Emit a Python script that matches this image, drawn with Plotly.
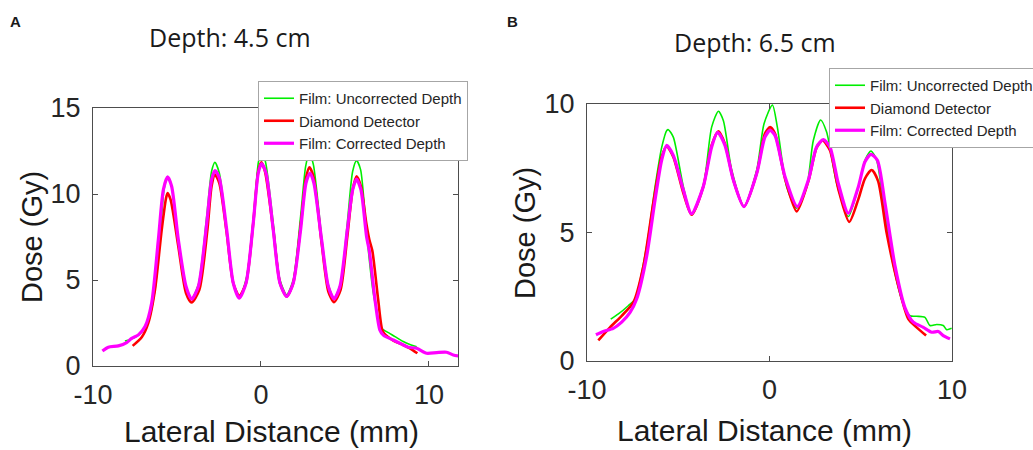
import plotly.graph_objects as go

# ---- panel A: depth 4.5 cm ----
a_unc_x = [-8.1, -7.6, -7.2, -6.71, -6.31, -6.01, -5.77, -5.56, -5.32, -4.92, -4.46, -4.13, -3.73, -3.23, -2.94,
           -2.74, -2.48, -2.04, -1.65, -1.29, -0.85, -0.42, -0.16, 0.02, 0.26, 0.73, 1.13, 1.53, 1.92, 2.36,
           2.66, 2.88, 3.12, 3.61, 4.01, 4.35, 4.74, 5.14, 5.46, 5.69, 5.93, 6.29, 6.69, 7.18, 7.48, 7.98,
           8.47, 8.9, 9.27]
a_unc_y = [1.45, 1.62, 1.86, 2.58, 4.43, 7.34, 10.25, 10.99, 10.45, 7.34, 4.62, 3.94, 4.72, 8.7, 11.32,
           11.84, 11.22, 7.92, 4.82, 3.94, 5.2, 8.89, 11.81, 12.45, 11.9, 8.31, 5.01, 4.14, 5.01, 8.7,
           11.61, 12.39, 11.71, 7.53, 4.72, 3.94, 4.82, 8.31, 11.32, 11.94, 11.42, 7.73, 4.23, 2.19, 2.0, 1.71,
           1.42, 1.24, 1.12]

a_dia_x = [-7.64, -7.1, -6.71, -6.31, -5.91, -5.65, -5.56, -5.38, -4.92, -4.46, -4.13, -3.67, -3.19, -2.94,
           -2.74, -2.48, -2.04, -1.65, -1.29, -0.89, -0.46, -0.16, 0.02, 0.24, 0.73, 1.13, 1.53, 1.92, 2.36,
           2.68, 2.88, 3.12, 3.61, 4.01, 4.35, 4.74, 5.14, 5.46, 5.69, 5.95, 6.27, 6.45, 6.63, 6.98, 7.22,
           7.4, 7.88, 8.47, 8.87, 9.31]
a_dia_y = [1.17, 1.67, 2.49, 4.43, 7.92, 9.77, 10.06, 9.67, 6.95, 4.23, 3.69, 4.43, 7.92, 10.45,
           11.13, 10.64, 7.73, 4.82, 4.08, 4.82, 8.31, 11.32, 11.84, 11.32, 7.92, 4.82, 4.04, 4.82, 8.12,
           10.93, 11.55, 11.03, 7.15, 4.33, 3.71, 4.43, 7.53, 10.25, 11.03, 10.45, 8.3, 7.35, 6.7, 3.84, 2.09,
           1.82, 1.48, 1.22, 1.03, 0.74]

a_cor_x = [-9.44, -9.09, -8.49, -8.0, -7.7, -7.3, -6.9, -6.51, -6.11, -5.81, -5.56, -5.32, -4.92, -4.46,
           -4.13, -3.73, -3.23, -2.94, -2.74, -2.48, -2.04, -1.65, -1.29, -0.89, -0.46, -0.16, 0.04, 0.3,
           0.73, 1.13, 1.53, 1.92, 2.36, 2.68, 2.92, 3.15, 3.61, 4.01, 4.35, 4.7, 5.14, 5.46, 5.69, 5.95,
           6.29, 6.45, 6.79, 7.08, 7.3, 7.88, 8.37, 8.77, 9.27, 9.86, 10.46, 11.05, 11.45, 11.75]
a_cor_y = [0.87, 1.09, 1.17, 1.36, 1.61, 1.81, 2.29, 3.65, 7.34, 10.25, 10.99, 10.45, 7.34, 4.62,
           3.88, 4.62, 8.31, 10.83, 11.36, 10.93, 7.92, 4.82, 3.94, 4.82, 8.31, 11.22, 11.77, 11.22,
           7.92, 4.82, 4.04, 4.82, 7.92, 10.64, 11.22, 10.64, 7.34, 4.62, 3.9, 4.62, 7.92, 10.25, 10.87, 10.25,
           7.5, 6.7, 3.84, 2.09, 1.78, 1.51, 1.28, 1.09, 1.03, 0.74, 0.78, 0.8, 0.64, 0.58]

# ---- panel B: depth 6.5 cm ----
b_unc_x = [-8.7, -8.28, -7.74, -7.37, -6.73, -6.27, -5.91, -5.63, -5.54, -5.27, -4.72, -4.27, -3.63, -3.17,
           -2.8, -2.53, -2.07, -1.4, -0.7, -0.3, 0.16, 0.43, 0.94, 1.49, 2.04, 2.4, 2.8, 3.13, 3.68, 4.32,
           4.87, 5.23, 5.56, 5.87, 6.24, 6.79, 7.33, 7.7, 8.06, 8.52, 8.79, 9.16, 9.52, 9.71, 9.98]
b_unc_y = [1.63, 1.83, 2.15, 2.41, 4.47, 6.78, 8.3, 8.97, 9.0, 8.71, 6.78, 5.69, 6.78, 9.1,
           9.72, 9.36, 7.43, 6.01, 7.43, 9.23, 9.96, 9.1, 6.78, 5.95, 6.78, 8.58, 9.38, 8.91, 6.91, 5.62,
           6.78, 7.81, 8.17, 7.81, 6.14, 3.69, 2.21, 1.76, 1.74, 1.7, 1.38, 1.42, 1.38, 1.22, 1.27]

b_dia_x = [-9.38, -8.74, -8.1, -7.46, -6.91, -6.37, -5.91, -5.63, -5.27, -4.72, -4.27, -3.63, -3.17, -2.8,
           -2.44, -1.98, -1.4, -0.7, -0.25, 0.03, 0.3, 0.85, 1.49, 2.13, 2.58, 2.91, 3.31, 3.77, 4.37,
           4.87, 5.23, 5.6, 5.95, 6.42, 7.06, 7.61, 8.06, 8.58]
b_dia_y = [0.8, 1.31, 1.76, 2.28, 3.69, 6.14, 7.94, 8.35, 7.94, 6.53, 5.69, 6.78, 8.4, 8.94,
           8.45, 7.04, 6.01, 7.3, 8.85, 9.1, 8.85, 7.1, 5.82, 7.0, 8.3, 8.58, 8.2, 6.7, 5.41,
           6.3, 7.1, 7.43, 7.0, 4.98, 2.92, 1.63, 1.31, 0.99]

b_cor_x = [-9.51, -9.11, -8.56, -8.1, -7.64, -7.28, -6.73, -6.27, -5.91, -5.63, -5.27, -4.72, -4.27, -3.63,
           -3.17, -2.84, -2.44, -1.98, -1.4, -0.7, -0.25, 0.03, 0.3, 0.85, 1.52, 2.13, 2.58, 2.95, 3.31,
           3.77, 4.32, 4.87, 5.23, 5.56, 5.91, 6.33, 6.88, 7.42, 7.88, 8.43, 8.89, 9.25, 9.52, 9.89]
b_cor_y = [1.02, 1.15, 1.27, 1.51, 1.89, 2.41, 4.08, 6.27, 7.81, 8.39, 8.0, 6.65, 5.73, 6.78,
           8.33, 8.9, 8.39, 7.04, 6.01, 7.3, 8.71, 8.97, 8.78, 7.17, 6.01, 7.04, 8.33, 8.61, 8.33,
           6.91, 5.75, 6.78, 7.75, 8.04, 7.81, 6.14, 3.69, 2.08, 1.51, 1.31, 1.12, 1.15, 0.99, 0.86]

# tick labels (plain hyphen like the original)
x_ticks = [-10, 0, 10]
x_ticktext = ["-10", "0", "10"]
a_y_ticks = [0, 5, 10, 15]
b_y_ticks = [0, 5, 10]

names = ["Film: Uncorrected Depth", "Diamond Detector", "Film: Corrected Depth"]
colors = ["#00ee00", "#ff0000", "#ff00ff"]
widths = [1.6, 2.6, 3.2]

FONT = "Liberation Sans, Arial, sans-serif"

fig = go.Figure()

panels = [
    ("x", "y", "legend", [(a_unc_x, a_unc_y), (a_dia_x, a_dia_y), (a_cor_x, a_cor_y)]),
    ("x2", "y2", "legend2", [(b_unc_x, b_unc_y), (b_dia_x, b_dia_y), (b_cor_x, b_cor_y)]),
]
for xa, ya, leg, series in panels:
    for (sx, sy), name, c, w in zip(series, names, colors, widths):
        fig.add_trace(go.Scatter(
            x=sx, y=sy, mode="lines", name=name,
            line=dict(color=c, width=w, shape="spline", smoothing=0.7),
            xaxis=xa, yaxis=ya, legend=leg, hoverinfo="skip",
        ))

axis_common = dict(
    showline=True, linecolor="#4d4d4d", linewidth=1, mirror="ticks",
    ticks="inside", ticklen=5, tickcolor="#4d4d4d", tickwidth=1,
    showgrid=False, zeroline=False,
    tickfont=dict(family=FONT, size=27, color="#262626"),
)

legend_common = dict(
    bgcolor="white", bordercolor="#a6a6a6", borderwidth=1,
    font=dict(family=FONT, size=15, color="#262626"),
    xanchor="left", yanchor="top", itemwidth=30, tracegroupgap=0,
)

fig.update_layout(
    width=1033, height=450,
    margin=dict(l=0, r=0, t=0, b=0, autoexpand=False),
    paper_bgcolor="white", plot_bgcolor="white",
    xaxis=dict(domain=[93 / 1033, 458 / 1033], range=[-10, 11.73], tickvals=x_ticks, ticktext=x_ticktext,
               anchor="y", ticklabelstandoff=5, **axis_common),
    yaxis=dict(domain=[1 - 366 / 450, 1 - 108 / 450], range=[0, 15], tickvals=a_y_ticks,
               anchor="x", ticklabelstandoff=6, **axis_common),
    xaxis2=dict(domain=[587 / 1033, 952 / 1033], range=[-10, 10], tickvals=x_ticks, ticktext=x_ticktext,
                anchor="y2", ticklabelstandoff=5, **axis_common),
    yaxis2=dict(domain=[1 - 361 / 450, 1 - 104 / 450], range=[0, 10], tickvals=b_y_ticks,
                anchor="x2", ticklabelstandoff=6, **axis_common),
    legend=dict(x=258 / 1033, y=1 - 81 / 450, **legend_common),
    legend2=dict(x=829 / 1033, y=1 - 68 / 450, **legend_common),
)

def label(text, x, y, size, angle=0, family=FONT, bold=False):
    fig.add_annotation(
        text=f"<b>{text}</b>" if bold else text,
        x=x / 1033, y=1 - y / 450, xref="paper", yref="paper",
        xanchor="center", yanchor="middle", showarrow=False, textangle=angle,
        font=dict(family=family, size=size, color="#1a1a1a"),
    )

label("A", 15, 22, 15, bold=True)
label("B", 512, 22, 15, bold=True)
label("Depth: 4.5 cm", 230, 37, 25, family="Open Sans, sans-serif")
label("Depth: 6.5 cm", 755, 42, 25, family="Open Sans, sans-serif")
label("Lateral Distance (mm)", 271, 431, 30)
label("Lateral Distance (mm)", 764, 430, 30)
label("Dose (Gy)", 32, 237, 29, angle=-90)
label("Dose (Gy)", 525, 233, 29, angle=-90)

fig.write_html(
    "out.html",
    config={"displayModeBar": False},
    post_script="document.body.style.margin='0';document.body.style.overflow='hidden';",
)
